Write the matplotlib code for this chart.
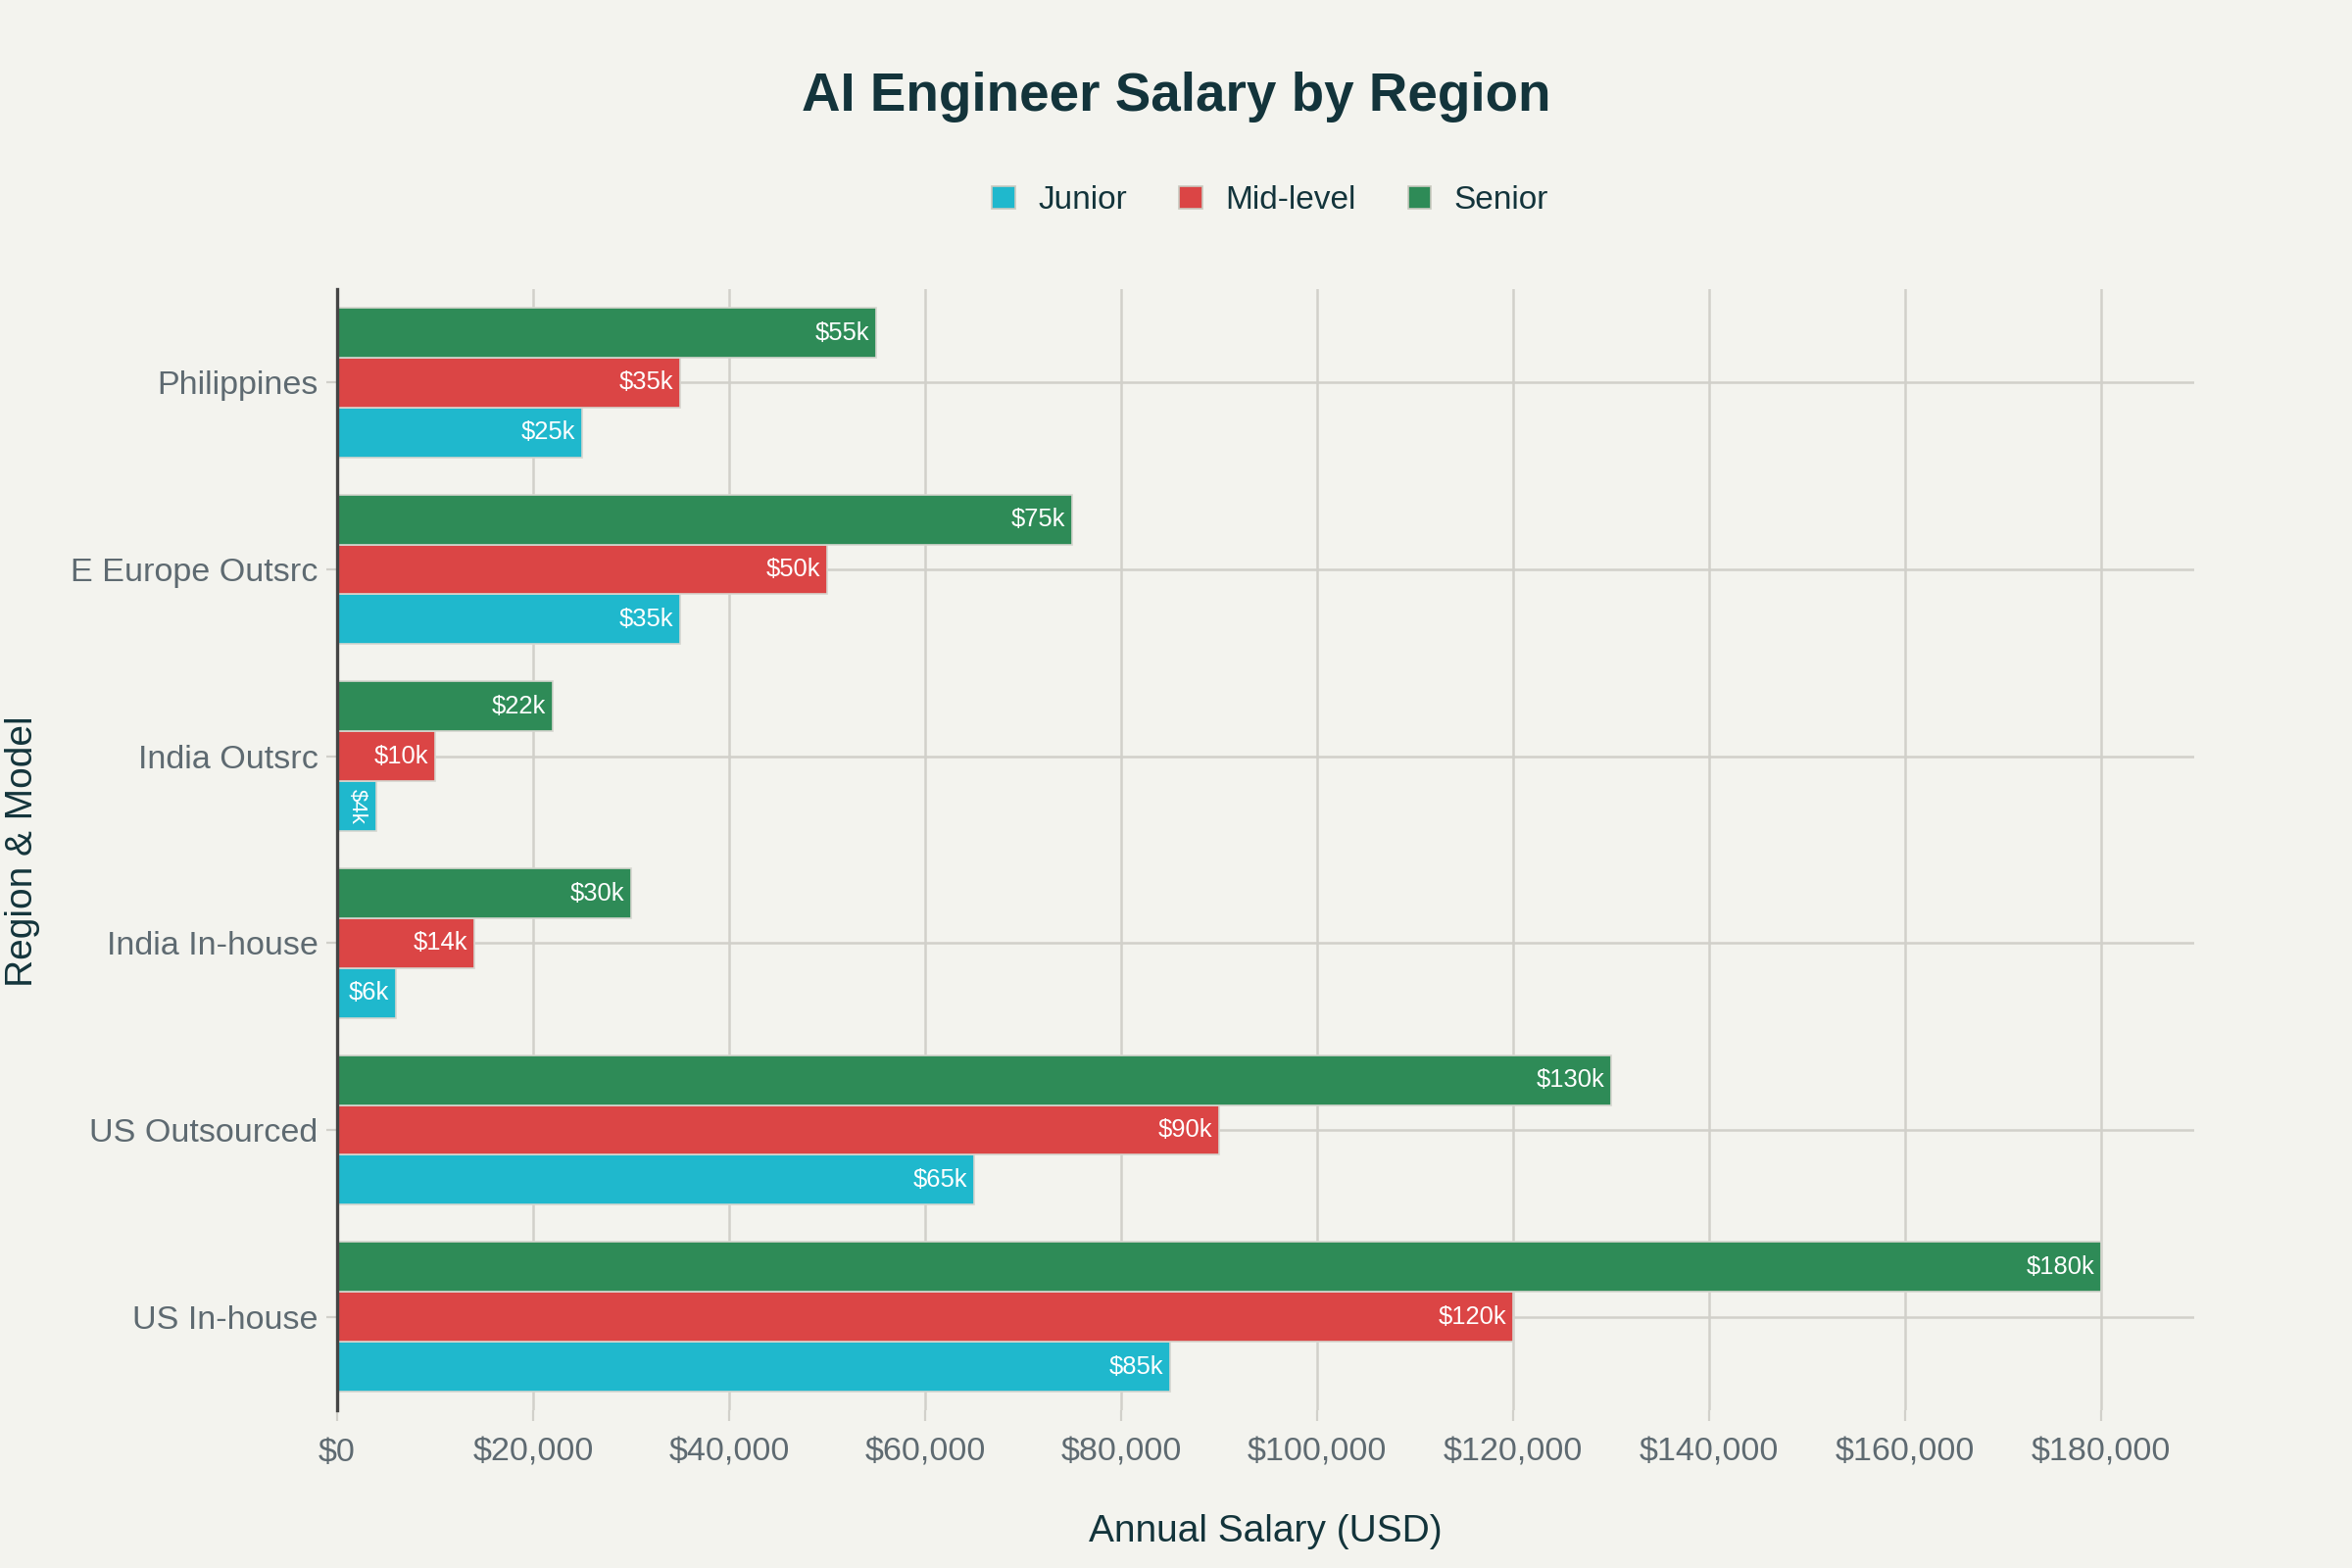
import matplotlib
matplotlib.use("Agg")
import matplotlib.pyplot as plt
import numpy as np
from matplotlib.patches import Patch
from matplotlib.ticker import FuncFormatter, MultipleLocator

categories = ["US In-house", "US Outsourced", "India In-house", "India Outsrc",
              "E Europe Outsrc", "Philippines"]
series_names = ["Junior", "Mid-level", "Senior"]
junior = [85000, 65000, 6000, 4000, 35000, 25000]
mid_level = [120000, 90000, 14000, 10000, 50000, 35000]
senior = [180000, 130000, 30000, 22000, 75000, 55000]
colors = ["#1FB8CD", "#DB4545", "#2E8B57"]

plt.rcParams['font.family'] = ['Liberation Sans', 'DejaVu Sans']

bg = "#F3F3EE"
fig = plt.figure(figsize=(12, 8), dpi=200, facecolor=bg)
ax = fig.add_axes([0.1433, 0.1006, 0.933 - 0.1433, 0.8156 - 0.1006])
ax.set_facecolor(bg)

y = np.arange(len(categories))
bw = 0.8 / 3
for i, (name, vals, col) in enumerate(zip(series_names, [junior, mid_level, senior], colors)):
    pos = y + (i - 1) * bw
    bars = ax.barh(pos, vals, height=bw, color=col, edgecolor="#D6D6CF", linewidth=0.6,
                   label=name, zorder=3)
    for b, v in zip(bars, vals):
        lbl = f"${v // 1000}k"
        cy = b.get_y() + b.get_height() / 2
        if v < 5000:
            ax.text(v / 2, cy, lbl, rotation=-90, ha="center", va="center",
                    color="white", fontsize=8, zorder=4)
        else:
            ax.annotate(lbl, (v, cy), xytext=(-2.5, 0), textcoords="offset points",
                        ha="right", va="center", color="white", fontsize=9.2, zorder=4)

ax.set_xlim(0, 189500)
ax.set_ylim(-0.5, len(categories) - 0.5)
ax.xaxis.set_major_locator(MultipleLocator(20000))
ax.xaxis.set_major_formatter(FuncFormatter(lambda v, p: f"${v:,.0f}"))
ax.set_yticks(y)
ax.set_yticklabels(categories)

ax.grid(True, color="#D1D0CA", linewidth=0.9, zorder=0)
ax.set_axisbelow(True)
for s in ["top", "right", "bottom"]:
    ax.spines[s].set_visible(False)
ax.spines["left"].set_color("#444444")
ax.spines["left"].set_linewidth(1.2)
ax.spines["left"].set_zorder(5)

tick_col = "#5E6A71"
ax.tick_params(axis="x", colors="#D1D0CA", labelcolor=tick_col, labelsize=12.3, length=4, pad=6)
ax.tick_params(axis="y", colors="#D1D0CA", labelcolor=tick_col, labelsize=12.3, length=4, pad=3)

title_col = "#13343B"
ax.set_xlabel("Annual Salary (USD)", fontsize=14, color=title_col, labelpad=17)
fig.text(0.0095, 0.457, "Region & Model", rotation=90, ha="center", va="center",
         fontsize=14, color=title_col)

fig.text(0.5, 0.938, "AI Engineer Salary by Region", ha="center", va="center",
         fontsize=19.7, fontweight="bold", color=title_col)

handles = [Patch(facecolor=c, edgecolor="#C9C9C0", linewidth=0.6, label=n)
           for c, n in zip(colors, series_names)]
leg = fig.legend(handles=handles, loc="center", bbox_to_anchor=(0.54, 0.872), ncol=3,
                 frameon=False, fontsize=12, handlelength=0.7, handleheight=0.7,
                 handletextpad=0.7, columnspacing=1.6)
for t in leg.get_texts():
    t.set_color(title_col)

fig.savefig("out.png", dpi=200, facecolor=bg)
